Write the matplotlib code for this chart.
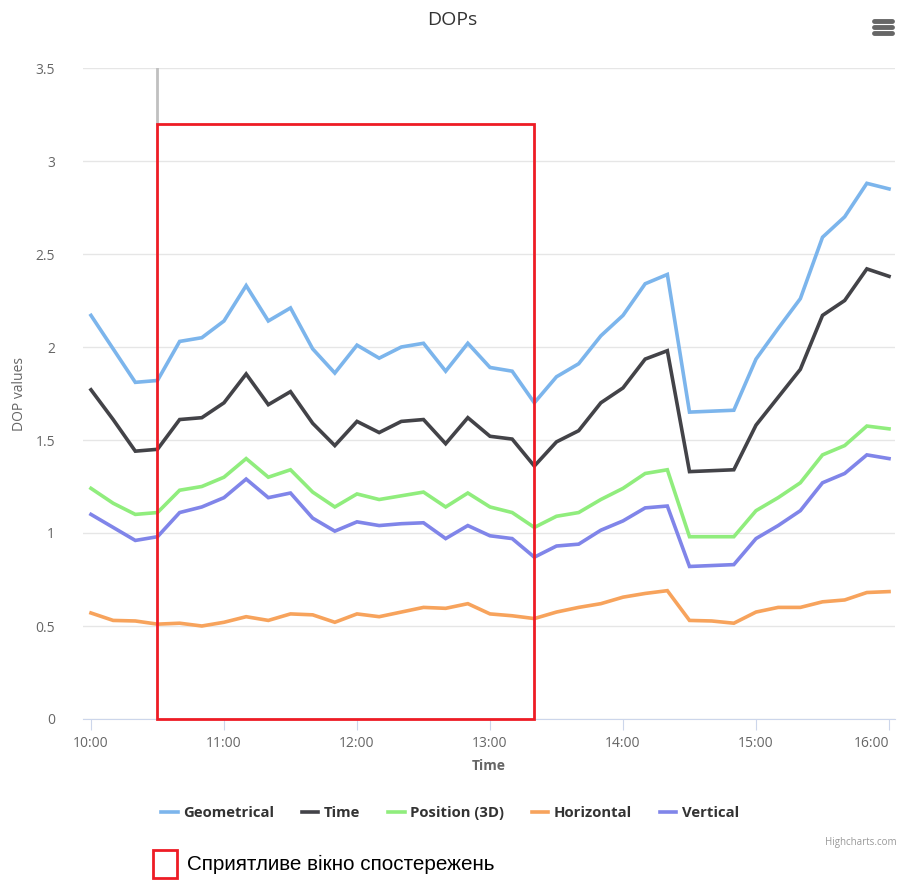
import matplotlib
matplotlib.use("Agg")
import matplotlib.pyplot as plt
import numpy as np
from matplotlib.patches import Rectangle
from matplotlib.lines import Line2D

# ---- data (10-minute samples, 10:00 .. 16:00) ----
tick_labels = ["10:00", "11:00", "12:00", "13:00", "14:00", "15:00", "16:00"]
minutes = list(range(0, 361, 10))

geometrical = [2.17, 1.99, 1.81, 1.82, 2.03, 2.05, 2.14, 2.33, 2.14, 2.21, 1.99, 1.86, 2.01,
               1.94, 2.00, 2.02, 1.87, 2.02, 1.89, 1.87, 1.70, 1.84, 1.91, 2.06, 2.17,
               2.34, 2.39, 1.65, 1.655, 1.66, 1.935, 2.10, 2.26, 2.59, 2.70, 2.88, 2.85]
time_dop = [1.77, 1.61, 1.44, 1.45, 1.61, 1.62, 1.70, 1.855, 1.69, 1.76, 1.59, 1.47, 1.60,
            1.54, 1.60, 1.61, 1.48, 1.62, 1.52, 1.505, 1.36, 1.49, 1.55, 1.70, 1.78,
            1.935, 1.98, 1.33, 1.335, 1.34, 1.58, 1.73, 1.88, 2.17, 2.25, 2.42, 2.38]
position_3d = [1.24, 1.16, 1.10, 1.11, 1.23, 1.25, 1.30, 1.40, 1.30, 1.34, 1.22, 1.14, 1.21,
               1.18, 1.20, 1.22, 1.14, 1.215, 1.14, 1.11, 1.03, 1.09, 1.11, 1.18, 1.24,
               1.32, 1.34, 0.98, 0.98, 0.98, 1.12, 1.19, 1.27, 1.42, 1.47, 1.575, 1.56]
horizontal = [0.57, 0.53, 0.527, 0.51, 0.515, 0.50, 0.52, 0.55, 0.53, 0.565, 0.56, 0.52, 0.565,
              0.55, 0.575, 0.60, 0.595, 0.62, 0.565, 0.555, 0.54, 0.575, 0.60, 0.62, 0.655,
              0.675, 0.69, 0.53, 0.527, 0.515, 0.575, 0.60, 0.60, 0.63, 0.64, 0.68, 0.685]
vertical = [1.10, 1.03, 0.96, 0.98, 1.11, 1.14, 1.19, 1.29, 1.19, 1.215, 1.08, 1.01, 1.06,
            1.04, 1.05, 1.055, 0.97, 1.04, 0.985, 0.97, 0.87, 0.93, 0.94, 1.015, 1.065,
            1.135, 1.145, 0.82, 0.825, 0.83, 0.97, 1.04, 1.12, 1.27, 1.32, 1.42, 1.40]

series_names = ["Geometrical", "Time", "Position (3D)", "Horizontal", "Vertical"]
series_values = [geometrical, time_dop, position_3d, horizontal, vertical]
colors = ["#7cb5ec", "#434348", "#90ed7d", "#f7a35c", "#8085e9"]

window_start, window_end, window_top = 30, 200, 3.2  # favourable window (minutes from 10:00, DOP)

# ---- figure ----
W, H = 900, 880
fig = plt.figure(figsize=(W / 100, H / 100), dpi=100)
L, R, T, B = 83, 895, 68, 719
ax = fig.add_axes([L / W, 1 - B / H, (R - L) / W, (B - T) / H])

for name, vals, c in zip(series_names, series_values, colors):
    ax.plot(minutes, vals, color=c, lw=2.6, solid_joinstyle="miter", label=name, zorder=3)

ax.set_xlim(-3.6, 362.7)
ax.set_ylim(0, 3.5)
ax.set_yticks(np.arange(0, 3.51, 0.5))
ax.set_yticklabels(["0", "0.5", "1", "1.5", "2", "2.5", "3", "3.5"])
ax.set_xticks(range(0, 361, 60))
ax.set_xticklabels(tick_labels)
ax.grid(axis="y", color="#e6e6e6", lw=1)
ax.set_axisbelow(True)
for s in ["top", "right", "left"]:
    ax.spines[s].set_visible(False)
ax.spines["bottom"].set_color("#ccd6eb")
ax.tick_params(axis="y", length=0, pad=20, labelsize=10, labelcolor="#666666")
ax.tick_params(axis="x", length=8, color="#ccd6eb", pad=4, labelsize=10, labelcolor="#666666")
for lab in ax.get_xticklabels() + ax.get_yticklabels():
    lab.set_family("Open Sans")
ax.get_xticklabels()[-1].set_horizontalalignment("right")
ax.get_xticklabels()[-1].set_x(363)

ax.set_ylabel("DOP values", fontsize=10, color="#666666", family="Open Sans", labelpad=6)
ax.set_xlabel("Time", fontsize=10, color="#666666", family="Open Sans", fontweight="bold", labelpad=6)

# favourable window rectangle + gray line above
ax.add_patch(Rectangle((window_start, 0), window_end - window_start, window_top,
                       fill=False, edgecolor="#ee1c25", lw=2, zorder=5, clip_on=False))
ax.plot([window_start, window_start], [window_top, 3.5], color="#c0c0c0", lw=2, zorder=2)

# title
fig.text(452 / W, 1 - 20 / H, "DOPs", ha="center", va="center", fontsize=14,
         color="#333333", family="Open Sans")

# hamburger menu icon
for yy in [23, 29, 35]:
    fig.add_artist(Line2D([874 / W, 892 / W], [1 - (yy - 2) / H] * 2, color="#666666",
                          lw=3.5, solid_capstyle="round"))

# legend
leg = ax.legend(loc="center", bbox_to_anchor=(450 / W, 1 - 813 / H), bbox_transform=fig.transFigure,
                ncol=5, frameon=False, handlelength=1.1, handletextpad=0.35, columnspacing=1.9,
                prop={"family": "Open Sans", "weight": "bold", "size": 10.7})
for t in leg.get_texts():
    t.set_color("#333333")

fig.text(897 / W, 1 - 842 / H, "Highcharts.com", ha="right", va="center", fontsize=7,
         color="#999999", family="Open Sans")

# custom legend for the favourable window
fig.add_artist(Rectangle((153 / W, 1 - 878 / H), 24 / W, 28 / H, fill=False,
                         edgecolor="#ee1c25", lw=2, transform=fig.transFigure))
fig.text(187 / W, 1 - 864 / H, "Сприятливе вікно спостережень", ha="left", va="center",
         fontsize=14.9, color="#000000", family="Liberation Sans")

fig.savefig("out.png", dpi=100)
